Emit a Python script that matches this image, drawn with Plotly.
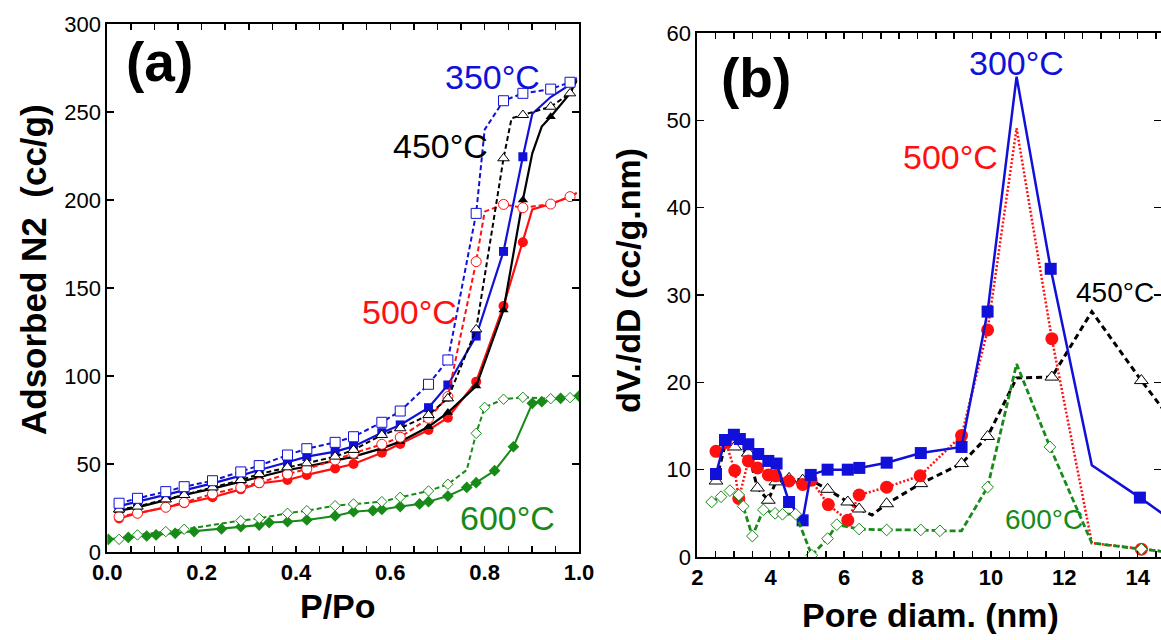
import plotly.graph_objects as go

# ---------------- Panel (a): N2 isotherms ----------------
grid_a = [0.025, 0.064, 0.124, 0.163, 0.223, 0.283, 0.322, 0.382, 0.423, 0.483,
          0.522, 0.582, 0.621, 0.681, 0.722]

p350_ads = grid_a + [0.782, 0.840, 0.881, 0.901, 0.940, 0.981, 0.995]
v350_ads = [26.1, 28.6, 32.4, 34.8, 39.0, 43.4, 46.6, 51.0, 54.2, 57.0, 60.0, 67.8, 72.2, 82.0, 94.9,
            122.7, 170.8, 224.6, 249.0, 258.5, 265.5, 269.0]
m350_ads = [1] * 18 + [0, 0, 0, 0]

p350_des = grid_a + [0.782, 0.800, 0.840, 0.881, 0.940, 0.981, 0.995]
v350_des = [27.7, 30.5, 34.3, 37.1, 40.5, 45.5, 49.1, 55.1, 58.7, 62.3, 65.5, 73.7, 80.1, 95.3, 109.1,
            192.4, 240.0, 256.4, 260.6, 263.0, 266.9, 269.5]
m350_des = [1] * 15 + [1, 0, 1, 1, 1, 1, 0]

p450_ads = grid_a + [0.782, 0.840, 0.881, 0.901, 0.921, 0.940, 0.981, 0.995]
v450_ads = [23.5, 25.4, 29.5, 32.4, 36.0, 40.0, 42.8, 46.6, 48.5, 51.9, 54.2, 58.9, 62.7, 71.2, 79.2,
            94.3, 137.5, 200.0, 226.5, 241.7, 247.3, 260.6, 268.0]
m450_ads = [1] * 18 + [0, 0, 1, 0, 0]

p450_des = grid_a + [0.782, 0.840, 0.857, 0.881, 0.940, 0.981, 0.995]
v450_des = [24.2, 25.8, 29.9, 32.4, 36.7, 40.9, 44.3, 48.1, 50.4, 54.2, 58.0, 66.5, 70.3, 77.8, 87.3,
            126.5, 223.7, 246.4, 248.3, 253.0, 260.6, 268.0]
m450_des = [1] * 17 + [0, 1, 1, 1, 0]

p500_ads = grid_a + [0.782, 0.840, 0.881, 0.901, 0.940, 0.981, 0.995]
v500_ads = [19.1, 22.0, 25.4, 27.7, 31.1, 35.6, 39.0, 40.9, 43.8, 47.5, 50.0, 56.4, 61.4, 69.3, 76.3,
            96.8, 139.8, 176.0, 194.7, 197.7, 201.9, 204.0]
m500_ads = [1] * 18 + [0, 0, 0, 0]

p500_des = grid_a + [0.782, 0.800, 0.840, 0.881, 0.940, 0.981, 0.995]
v500_des = [20.1, 22.0, 25.4, 28.2, 33.0, 36.7, 39.4, 44.3, 47.2, 52.3, 56.1, 61.2, 65.2, 76.0, 88.3,
            165.0, 193.4, 197.5, 195.6, 197.7, 201.9, 204.0]
m500_des = [1] * 15 + [1, 0, 1, 1, 1, 1, 0]

p600_ads = [0.002, 0.0445, 0.0835, 0.1035, 0.144, 0.184, 0.242, 0.283, 0.322, 0.343, 0.382, 0.423,
            0.483, 0.522, 0.563, 0.582, 0.621, 0.662, 0.681, 0.722, 0.762, 0.782, 0.821, 0.861,
            0.901, 0.921, 0.961, 1.0]
v600_ads = [7.2, 8.3, 9.1, 9.7, 10.6, 11.6, 13.1, 14.4, 15.3, 16.7, 17.2, 18.2, 20.5, 22.9, 23.5,
            24.2, 25.8, 27.3, 28.6, 31.8, 36.7, 39.4, 46.2, 59.8, 84.5, 85.4, 87.3, 88.6]

p600_des = [0.025, 0.064, 0.124, 0.163, 0.283, 0.322, 0.382, 0.423, 0.483, 0.522, 0.582, 0.621,
            0.681, 0.722, 0.762, 0.782, 0.800, 0.840, 0.881, 0.940, 0.981]
v600_des = [7.2, 9.7, 11.6, 12.9, 17.8, 19.1, 22.0, 23.5, 26.3, 27.3, 28.6, 31.1, 34.7, 38.5, 46.6,
            67.4, 82.2, 86.8, 87.9, 87.1, 87.7]
m600_des = [1] * 14 + [0] + [1] * 6

# ---------------- Panel (b): pore size distributions ----------------
d300 = [2.51, 2.755, 2.997, 3.16, 3.39, 3.66, 3.935, 4.16, 4.5, 4.87, 5.09, 5.55, 6.1, 6.415,
        7.16, 8.09, 9.2, 9.91, 10.7, 11.63, 12.75, 14.06, 15.4]
y300 = [9.5, 13.4, 14.0, 13.5, 12.9, 11.8, 11.0, 10.7, 6.3, 4.2, 9.4, 10.0, 10.0, 10.2,
        10.8, 11.9, 12.6, 28.1, 55.0, 33.0, 10.5, 6.8, 2.8]
k300 = [1] * 18 + [0, 1, 0, 1, 0]

d500 = [2.51, 2.78, 3.02, 3.13, 3.39, 3.64, 3.935, 4.14, 4.5, 4.87, 5.1, 5.57, 6.1, 6.41,
        7.16, 8.07, 9.2, 9.91, 10.7, 11.66, 12.75, 14.1, 15.4]
y500 = [12.1, 13.1, 9.9, 6.7, 11.0, 10.2, 9.4, 9.3, 8.7, 8.3, 8.8, 6.0, 4.2, 7.1,
        8.0, 9.3, 13.9, 26.0, 49.1, 25.0, 1.6, 0.9, 0.3]
k500 = [1] * 18 + [0, 1, 0, 1, 0]

d450 = [2.51, 2.78, 3.02, 3.39, 3.64, 3.935, 4.14, 4.5, 4.87, 5.1, 5.55, 6.1, 6.41, 6.76,
        7.16, 8.09, 9.2, 9.91, 10.7, 11.66, 12.75, 14.1, 15.4]
y450 = [8.7, 13.2, 12.6, 11.9, 7.9, 6.5, 8.6, 9.0, 8.8, 8.8, 7.75, 6.3, 5.5, 4.8,
        6.1, 8.4, 10.7, 13.8, 20.5, 20.6, 28.1, 20.2, 13.0]
k450 = [1, 0] + [1] * 11 + [0] + [1] * 4 + [0, 1, 0, 1, 0]

d600 = [2.39, 2.647, 2.89, 3.13, 3.25, 3.5, 3.8, 4.12, 4.32, 4.68, 5.12, 5.55, 5.8, 6.41,
        7.16, 8.09, 8.61, 9.2, 9.91, 10.7, 11.61, 12.75, 14.1, 15.4]
y600 = [6.3, 6.9, 7.6, 7.1, 5.8, 2.4, 5.4, 5.0, 4.9, 4.9, 0.2, 2.1, 3.7, 3.2,
        3.1, 3.1, 3.0, 3.0, 8.0, 22.1, 12.6, 1.6, 0.9, 0.3]
k600 = [1] * 17 + [0, 1, 0, 1, 0, 1, 0]

xtick_a = [0.0, 0.2, 0.4, 0.6, 0.8, 1.0]
xtick_b = [2, 4, 6, 8, 10, 12, 14]

BLUE = "#1010d8"
RED = "#ff1010"
BLACK = "#000000"
GREEN = "#178a17"
FONT = "Liberation Sans, Arial, Helvetica, sans-serif"

W, H = 1161, 640


def sizes(mask, s):
    return [s if m else 0 for m in mask]


fig = go.Figure()


def add(x, y, color, dash, width, symbol, size, filled, mask, xa, ya, lw_marker=1.0):
    fig.add_trace(go.Scatter(
        x=x, y=y, mode="lines+markers", xaxis=xa, yaxis=ya, showlegend=False,
        line=dict(color=color, width=width, dash=dash),
        marker=dict(symbol=symbol, size=sizes(mask, size) if mask is not None else size,
                    opacity=1,
                    color=color if filled else "white",
                    line=dict(color=color, width=0 if filled else lw_marker)),
        cliponaxis=True, hoverinfo="skip",
    ))


# panel (a)
add(p600_ads, v600_ads, GREEN, "solid", 2, "diamond", 9, True, None, "x", "y")
add(p600_des, v600_des, GREEN, "5px,3px", 2, "diamond", 8, False, m600_des, "x", "y")
add(p500_ads, v500_ads, RED, "solid", 2.2, "circle", 10, True, m500_ads, "x", "y")
add(p450_ads, v450_ads, BLACK, "solid", 2.2, "triangle-up", 9, True, m450_ads, "x", "y")
add(p350_ads, v350_ads, BLUE, "solid", 2.2, "square", 9, True, m350_ads, "x", "y")
add(p500_des, v500_des, RED, "5px,3px", 2, "circle", 10, False, m500_des, "x", "y")
add(p450_des, v450_des, BLACK, "5px,3px", 2, "triangle-up", 10, False, m450_des, "x", "y")
add(p350_des, v350_des, BLUE, "5px,3px", 2, "square", 10, False, m350_des, "x", "y")

# panel (b)
add(d450, y450, BLACK, "6px,4px", 3, "triangle-up", 12, False, k450, "x2", "y2")
add(d500, y500, RED, "2px,2px", 2.5, "circle", 13, True, k500, "x2", "y2")
add(d300, y300, BLUE, "solid", 2.5, "square", 12, True, k300, "x2", "y2")
add(d600, y600, GREEN, "6px,3px", 2.8, "diamond", 9, False, k600, "x2", "y2")

axis_common = dict(showline=True, linecolor="black", linewidth=2, mirror="ticks",
                   ticks="inside", tickcolor="black", showgrid=False, zeroline=False,
                   automargin=False)

fig.update_layout(
    width=W, height=H,
    margin=dict(l=0, r=0, t=0, b=0, pad=0, autoexpand=False),
    paper_bgcolor="white", plot_bgcolor="white",
    font=dict(family=FONT, color="black"),
    xaxis=dict(domain=[107.3 / W, 579 / W], range=[0, 1], anchor="y",
               tickvals=xtick_a, ticktext=["%.1f" % v for v in xtick_a],
               ticklen=6, tickwidth=1.5,
               tickfont=dict(size=22, family=FONT, weight="bold"),
               minor=dict(dtick=0.05, ticks="inside", ticklen=6, tickwidth=1.5, tickcolor="black"),
               **axis_common),
    yaxis=dict(domain=[1 - 552 / H, 1 - 24 / H], range=[0, 300], anchor="x",
               dtick=50, ticklen=7, tickwidth=1.5,
               tickfont=dict(size=22, family=FONT),
               **axis_common),
    xaxis2=dict(domain=[697.3 / W, 1.0], range=[2, 14.635], anchor="y2",
                tickvals=xtick_b, ticklen=6, tickwidth=1.5,
                tickfont=dict(size=22, family=FONT, weight="bold"),
                minor=dict(dtick=0.5, ticks="inside", ticklen=6, tickwidth=1.5, tickcolor="black"),
                **axis_common),
    yaxis2=dict(domain=[1 - 557 / H, 1 - 33 / H], range=[0, 60], anchor="x2",
                dtick=10, ticklen=7, tickwidth=1.5,
                tickfont=dict(size=22, family=FONT),
                **axis_common),
)


def note(text, px, py, size, color="black", bold=False, angle=0):
    fig.add_annotation(
        text=text, x=px / W, y=1 - py / H, xref="paper", yref="paper",
        xanchor="center", yanchor="middle", showarrow=False, textangle=angle,
        font=dict(size=size, color=color, family=FONT, weight="bold" if bold else "normal"),
    )


note("(a)", 159, 62, 55, bold=True)
note("(b)", 756, 78, 55, bold=True)
note("350°C", 492, 77, 34, BLUE)
note("450°C", 440, 146, 34, BLACK)
note("500°C", 409, 312, 34, RED)
note("600°C", 507, 518, 34, GREEN)
note("300°C", 1016, 63, 34, BLUE)
note("500°C", 950, 157, 34, RED)
note("450°C", 1115, 292, 28, BLACK)
note("600°C", 1044, 519, 28, GREEN)
note("P/Po", 338, 606, 34, bold=True)
note("Pore diam. (nm)", 930, 615, 34, bold=True)
note("Adsorbed N2  (cc/g)", 33, 270, 35, bold=True, angle=-90)
note("dV./dD (cc/g.nm)", 628, 280, 34, bold=True, angle=-90)

fig.write_html(
    "out.html",
    config={"displayModeBar": False, "staticPlot": True},
    post_script="document.body.style.margin='0px';document.body.style.overflow='hidden';",
)
